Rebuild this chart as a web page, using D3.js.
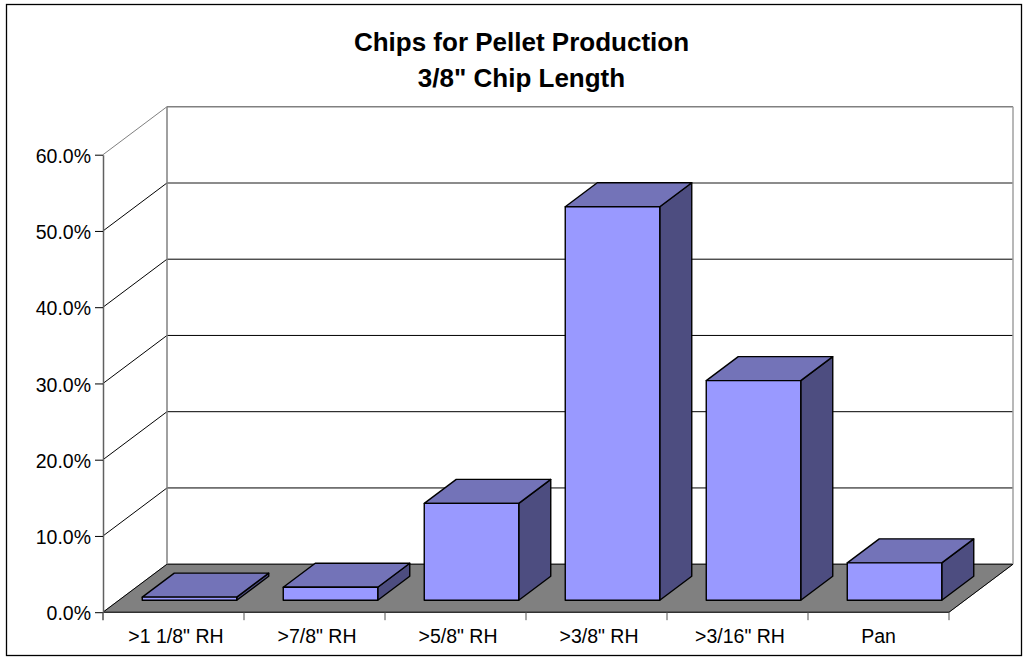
<!DOCTYPE html>
<html>
<head>
<meta charset="utf-8">
<script src="https://cdn.jsdelivr.net/npm/d3@7/dist/d3.min.js"></script>
<style>
  html, body { margin: 0; padding: 0; background: #fff; }
  svg { display: block; }
  text { font-family: "Liberation Sans", Arial, sans-serif; fill: #000; }
</style>
</head>
<body>
<svg id="chart" width="1028" height="666"></svg>
<script>
const categories = ['>1 1/8" RH', '>7/8" RH', '>5/8" RH', '>3/8" RH', '>3/16" RH', 'Pan'];
const shares = [0.4, 1.7, 12.7, 51.6, 28.8, 4.9];
const yTicks = [0, 10, 20, 30, 40, 50, 60];
const titleLines = ['Chips for Pellet Production', '3/8" Chip Length'];

const svg = d3.select('#chart');

// Front plane of the 3D box, plus the oblique offset to its back plane.
const plotLeft = 103, plotRight = 949, plotBase = 612.2, plotTop = 154.7;
const depthX = 64, depthY = 48;

const x = d3.scaleBand().domain(categories).range([plotLeft, plotRight]);
const y = d3.scaleLinear().domain([0, 60]).range([plotBase, plotTop]);
const path = d3.line();

svg.append('rect')
  .attr('x', 6.5).attr('y', 4.5).attr('width', 1015).attr('height', 651)
  .attr('fill', '#fff').attr('stroke', '#000').attr('stroke-width', 1.3);

// Floor
svg.append('path')
  .attr('d', path([[plotLeft, plotBase], [plotLeft + depthX, plotBase - depthY],
                   [plotRight + depthX, plotBase - depthY], [plotRight, plotBase]]) + 'Z')
  .attr('fill', '#808080').attr('stroke', '#808080');

// Gridlines running up the side wall and across the back wall
const wall = svg.append('g').attr('fill', 'none');
yTicks.forEach(t => {
  const py = y(t);
  const corner = [plotLeft + depthX, py - depthY];
  const sideColor = t === 60 ? '#808080' : '#000';
  const backColor = t === 60 ? '#808080' : t === 50 ? '#666' : '#000';
  wall.append('path')
    .attr('d', path([[plotLeft, py], corner]))
    .attr('stroke', sideColor).attr('stroke-width', 1);
  wall.append('path')
    .attr('d', path([corner, [plotRight + depthX, py - depthY]]))
    .attr('stroke', backColor).attr('stroke-width', t >= 50 ? 1.4 : 1);
});
wall.append('path')
  .attr('d', path([[plotLeft + depthX, y(0) - depthY], [plotLeft + depthX, y(60) - depthY]]))
  .attr('stroke', '#808080').attr('stroke-width', 1.5);
wall.append('path')
  .attr('d', path([[plotRight + depthX, y(0) - depthY], [plotRight + depthX, y(60) - depthY]]))
  .attr('stroke', '#a0a0a0').attr('stroke-width', 1.5);
wall.append('path')
  .attr('d', path([[plotLeft, y(0)], [plotRight, y(0)], [plotRight + depthX, y(0) - depthY]]))
  .attr('stroke', '#000').attr('stroke-width', 1);

// Value axis along the front left edge
const axisY = d3.axisLeft(y).tickValues(yTicks).tickSize(8).tickPadding(4).tickSizeOuter(0)
  .tickFormat(d => d.toFixed(1) + '%');
const gy = svg.append('g').attr('transform', `translate(${plotLeft},0)`).call(axisY);
gy.select('.domain').attr('stroke', '#606060').attr('stroke-width', 1.5);
gy.selectAll('line').attr('stroke', '#000');
gy.selectAll('text').attr('dy', '0.39em').style('font-size', '19.5px');

// Category axis: ticks sit on the slot boundaries, labels in the middle
const axisG = svg.append('g');
d3.range(categories.length + 1).forEach(i => {
  const tx = plotLeft + x.step() * i;
  axisG.append('line').attr('x1', tx).attr('x2', tx)
    .attr('y1', plotBase).attr('y2', plotBase + 8)
    .attr('stroke', '#505050').attr('stroke-width', i === 0 ? 1.5 : 1);
});
axisG.selectAll('text').data(categories).join('text')
  .attr('x', d => x(d) + x.step() / 2 + (d === 'Pan' ? 0 : 2.5))
  .attr('y', plotBase + 30.8)
  .attr('text-anchor', 'middle')
  .style('font-size', '19.5px')
  .text(d => d);

// Bars: side, top and front faces
const barW = 94.5, barDX = 32, barDY = 24, inset = 16, lift = 12;
const bars = svg.append('g').attr('stroke', '#000').attr('stroke-width', 1.4).attr('stroke-linejoin', 'round');
categories.forEach((c, i) => {
  const x0 = x(c) + (x.step() - barW) / 2 + inset;
  const x1 = x0 + barW;
  const y0 = plotBase - lift;
  const y1 = y(shares[i]) - lift;
  bars.append('path').attr('fill', '#4d4d80')
    .attr('d', path([[x1, y0], [x1 + barDX, y0 - barDY], [x1 + barDX, y1 - barDY], [x1, y1]]) + 'Z');
  bars.append('path').attr('fill', '#7373b8')
    .attr('d', path([[x0, y1], [x0 + barDX, y1 - barDY], [x1 + barDX, y1 - barDY], [x1, y1]]) + 'Z');
  bars.append('path').attr('fill', '#9999ff')
    .attr('d', path([[x0, y0], [x1, y0], [x1, y1], [x0, y1]]) + 'Z');
});

// Title
svg.append('text')
  .attr('text-anchor', 'middle')
  .style('font-size', '26px').style('font-weight', 'bold')
  .selectAll('tspan').data(titleLines).join('tspan')
  .attr('x', 521.5).attr('y', (d, i) => 51 + i * 36)
  .text(d => d);
</script>
</body>
</html>
